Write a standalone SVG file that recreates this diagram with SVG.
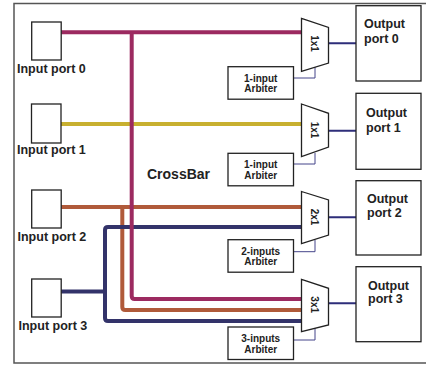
<svg xmlns="http://www.w3.org/2000/svg" width="426" height="366" viewBox="0 0 426 366">
<style>
.box{fill:#fff;stroke:#222;stroke-width:1.3}
.mux{fill:#fff;stroke:#222;stroke-width:1.3}
.t{font-family:"Liberation Sans",Arial,sans-serif;font-weight:bold;fill:#222}
.in{font-size:12.5px}
.out{font-size:12.5px}
.arb{font-size:10px;text-anchor:middle}
.ml{font-size:10px;text-anchor:middle}
.w{fill:none;stroke-width:4;stroke-linejoin:round}
.o{fill:none;stroke:#2e2e7a;stroke-width:2}
.a{fill:none;stroke:#45458a;stroke-width:1}
</style>
<rect x="14" y="3.5" width="420" height="359.5" fill="#fff" stroke="#555" stroke-width="1.5"/>
<g id="connectors">
<path class="w" stroke="#c8b030" d="M61,124 H302"/>
<path class="w" stroke="#b05a3a" d="M61,207 H302 M122.3,207 V307 Q122.3,310 125.3,310 H302"/>
<path class="w" stroke="#33336a" d="M61,291.5 H105 M302,227 H108 Q105,227 105,230 V318 Q105,321 108,321 H302"/>
<path class="w" stroke="#9c2a60" d="M61,32.3 H302 M131.7,32.3 V296 Q131.7,299 134.7,299 H302"/>
<path class="o" d="M328.5,43.3 H356 M328.5,130.7 H356 M328.5,217.3 H356 M328.5,303.3 H356"/>
<path class="a" d="M293.5,78 H315 V67 M293.5,164 H315 V153 M293.5,251.7 H315 V240 M293.5,340 H315 V328"/>
</g>
<text class="t" x="147" y="179" font-size="14px">CrossBar</text>
<g id="in0"><rect class="box" x="31.7" y="22" width="29.5" height="38"/><text class="t in" x="17" y="72.5">Input port 0</text></g>
<g id="in1"><rect class="box" x="31.5" y="104" width="29.5" height="39"/><text class="t in" x="17" y="154">Input port 1</text></g>
<g id="in2"><rect class="box" x="31.7" y="190" width="29.5" height="38"/><text class="t in" x="17.5" y="240.5">Input port 2</text></g>
<g id="in3"><rect class="box" x="31.7" y="279" width="29.5" height="38"/><text class="t in" x="18.5" y="329.5">Input port 3</text></g>
<g id="mux0"><polygon class="mux" points="301.5,18.3 328.5,27.5 328.5,63 301.5,71.3"/><text class="t ml" transform="translate(310.5,43.5) rotate(90)">1x1</text></g>
<g id="mux1"><polygon class="mux" points="301.5,104 328.5,113.3 328.5,147 301.5,156.7"/><text class="t ml" transform="translate(310.5,130) rotate(90)">1x1</text></g>
<g id="mux2"><polygon class="mux" points="301.5,191.5 328.5,200 328.5,235 301.5,243.5"/><text class="t ml" transform="translate(310.5,217) rotate(90)">2x1</text></g>
<g id="mux3"><polygon class="mux" points="301.5,279.3 328.5,288.3 328.5,325 301.5,331.7"/><text class="t ml" transform="translate(310.5,304.7) rotate(90)">3x1</text></g>
<g id="arb0"><rect class="box" x="228" y="66.7" width="65.5" height="32.5"/><text class="t arb" x="260.7" y="81.5">1-input</text><text class="t arb" x="260.7" y="92">Arbiter</text></g>
<g id="arb1"><rect class="box" x="228" y="153.3" width="65.5" height="32.5"/><text class="t arb" x="260.7" y="168">1-input</text><text class="t arb" x="260.7" y="178.5">Arbiter</text></g>
<g id="arb2"><rect class="box" x="228" y="239.7" width="65.5" height="32.5"/><text class="t arb" x="260.7" y="254.5">2-inputs</text><text class="t arb" x="260.7" y="265">Arbiter</text></g>
<g id="arb3"><rect class="box" x="228" y="327" width="65.5" height="32.5"/><text class="t arb" x="260.7" y="342">3-inputs</text><text class="t arb" x="260.7" y="352.5">Arbiter</text></g>
<g id="out0"><rect class="box" x="356" y="5.7" width="65" height="75.3"/><text class="t out" x="364" y="28.3">Output</text><text class="t out" x="364" y="42.7">port 0</text></g>
<g id="out1"><rect class="box" x="356" y="93.3" width="65" height="76"/><text class="t out" x="366" y="117.3">Output</text><text class="t out" x="366" y="131.7">port 1</text></g>
<g id="out2"><rect class="box" x="356" y="180.7" width="65" height="74.3"/><text class="t out" x="367" y="203.3">Output</text><text class="t out" x="367" y="217.3">port 2</text></g>
<g id="out3"><rect class="box" x="356" y="266.7" width="65" height="75"/><text class="t out" x="368" y="290">Output</text><text class="t out" x="368" y="303.3">port 3</text></g>
</svg>
